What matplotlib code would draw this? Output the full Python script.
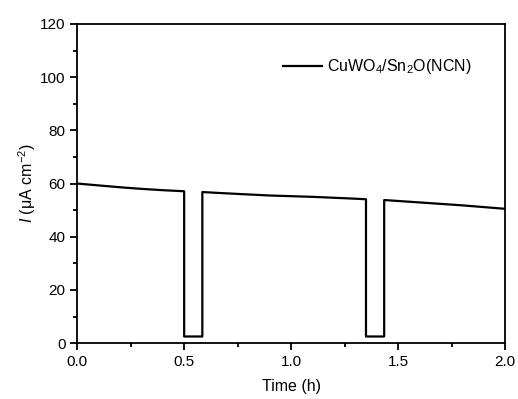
import matplotlib.pyplot as plt
from matplotlib.ticker import MultipleLocator

plt.rcParams['font.family'] = ['Liberation Sans', 'DejaVu Sans']
plt.rcParams['mathtext.fontset'] = 'custom'
plt.rcParams['mathtext.rm'] = 'Liberation Sans'
plt.rcParams['mathtext.it'] = 'Liberation Sans:italic'

# light on/off chopped photocurrent
time_h = [0.0, 0.1, 0.2, 0.3, 0.4, 0.5, 0.5, 0.585, 0.585, 0.7, 0.9, 1.1,
          1.3, 1.35, 1.35, 1.435, 1.435, 1.6, 1.8, 2.0]
current = [60.0, 59.3, 58.6, 58.0, 57.5, 57.1, 2.5, 2.5, 56.8, 56.3, 55.5,
           55.0, 54.3, 54.1, 2.5, 2.5, 53.8, 52.9, 51.8, 50.5]
series_label = 'CuWO$_4$/Sn$_2$O(NCN)'

fig = plt.figure(figsize=(5.18, 3.99), dpi=100)
ax = fig.add_axes([0.149, 0.140, 0.826, 0.800])

ax.plot(time_h, current, color='black', lw=1.6, label=series_label)

ax.set_xlim(0, 2.0)
ax.set_ylim(0, 120)
ax.xaxis.set_major_locator(MultipleLocator(0.5))
ax.xaxis.set_minor_locator(MultipleLocator(0.25))
ax.yaxis.set_major_locator(MultipleLocator(20))
ax.yaxis.set_minor_locator(MultipleLocator(10))
ax.xaxis.set_major_formatter(plt.FormatStrFormatter('%.1f'))
ax.tick_params(which='major', direction='out', length=5, width=1.3, labelsize=11)
ax.tick_params(which='minor', direction='out', length=3, width=1.3)
for s in ax.spines.values():
    s.set_linewidth(1.3)

ax.set_xlabel('Time (h)', fontsize=11.5, labelpad=7)
ax.set_ylabel(r'$\mathit{I}$ (μA cm$^{-2}$)', fontsize=11.5, labelpad=1)

ax.legend(loc='upper right', bbox_to_anchor=(0.954, 0.94), frameon=False,
          fontsize=11.5, handlelength=2.4, handletextpad=0.3)

fig.savefig('out.png', dpi=100)
